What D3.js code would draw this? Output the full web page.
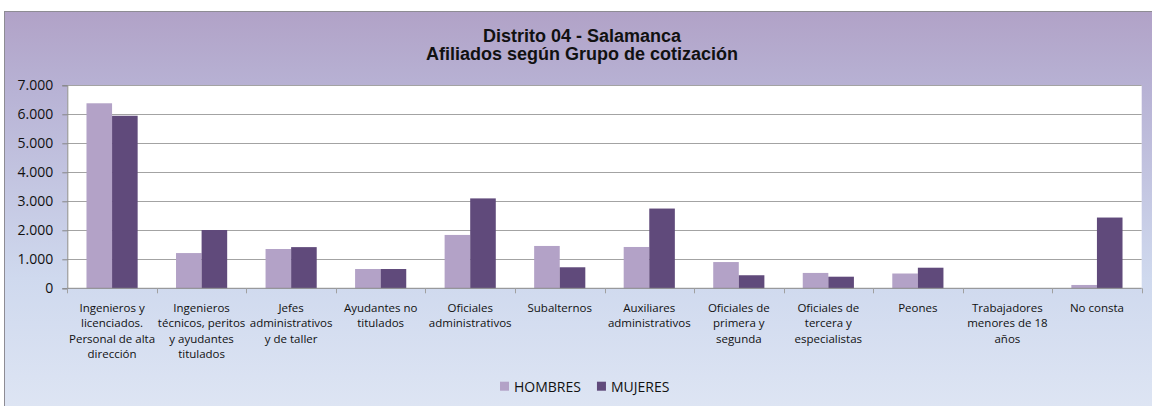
<!DOCTYPE html>
<html>
<head>
<meta charset="utf-8">
<script src="https://cdn.jsdelivr.net/npm/d3@7"></script>
<style>
  body { margin: 0; background: #fff; }
  svg text { font-family: "Open Sans", sans-serif; fill: #111; }
  .title { font-family: "Liberation Sans", Arial, sans-serif; font-weight: bold; font-size: 18px; }
</style>
</head>
<body>
<div id="vis"></div>
<script>
// data
var categories = [
  ['Ingenieros y', 'licenciados.', 'Personal de alta', 'dirección'],
  ['Ingenieros', 'técnicos, peritos', 'y ayudantes', 'titulados'],
  ['Jefes', 'administrativos', 'y de taller'],
  ['Ayudantes no', 'titulados'],
  ['Oficiales', 'administrativos'],
  ['Subalternos'],
  ['Auxiliares', 'administrativos'],
  ['Oficiales de', 'primera y', 'segunda'],
  ['Oficiales de', 'tercera y', 'especialistas'],
  ['Peones'],
  ['Trabajadores', 'menores de 18', 'años'],
  ['No consta']
];
var seriesNames = ['HOMBRES', 'MUJERES'];
var hombres = [6380, 1215, 1355, 665, 1840, 1460, 1425, 905, 530, 510, 0, 115];
var mujeres = [5950, 2010, 1420, 665, 3100, 725, 2750, 450, 400, 710, 0, 2440];
var yTicks = [0, 1000, 2000, 3000, 4000, 5000, 6000, 7000];
var titleLines = ['Distrito 04 - Salamanca', 'Afiliados según Grupo de cotización'];

var width = 1152;
var height = 406;
var colors = ['#b3a2c7', '#604a7b'];

var plot = { left: 67.3, right: 1141.7, top: 85.3, bottom: 288.3 };

var locale = d3.formatLocale({ decimal: ',', thousands: '.', grouping: [3], currency: ['', ''] });
var fmt = locale.format(',d');

var svg = d3.select('#vis').append('svg')
  .attr('width', width)
  .attr('height', height);

// background gradient
var grad = svg.append('defs').append('linearGradient')
  .attr('id', 'bg')
  .attr('x1', 0).attr('y1', 0).attr('x2', 0).attr('y2', 1);
grad.append('stop').attr('offset', '0%').attr('stop-color', '#b1a2c7');
grad.append('stop').attr('offset', '20%').attr('stop-color', '#b8b3d5');
grad.append('stop').attr('offset', '65%').attr('stop-color', '#cfd9ee');
grad.append('stop').attr('offset', '100%').attr('stop-color', '#dfe6f4');

svg.append('rect')
  .attr('x', 4.5).attr('y', 11.5)
  .attr('width', 1160).attr('height', 410)
  .attr('fill', 'url(#bg)')
  .attr('stroke', '#8e8c94')
  .attr('stroke-width', 1);

// title
svg.selectAll('.title')
  .data(titleLines)
  .enter().append('text')
  .attr('class', 'title')
  .attr('x', 582)
  .attr('y', function (d, i) { return 41.5 + i * 18; })
  .attr('text-anchor', 'middle')
  .text(function (d) { return d; });

// plot area
svg.append('rect')
  .attr('x', plot.left).attr('y', plot.top)
  .attr('width', plot.right - plot.left).attr('height', plot.bottom - plot.top)
  .attr('fill', '#fff');

var x = d3.scaleBand()
  .domain(d3.range(categories.length))
  .range([plot.left, plot.right])
  .padding(0);

var xs = d3.scaleBand()
  .domain(seriesNames)
  .range([0, x.bandwidth()])
  .paddingInner(0)
  .paddingOuter(0.75);

var y = d3.scaleLinear()
  .domain([0, 7000])
  .range([plot.bottom, plot.top]);

// gridlines
svg.append('g')
  .selectAll('line')
  .data(yTicks.slice(1))
  .enter().append('line')
  .attr('x1', plot.left).attr('x2', plot.right)
  .attr('y1', function (d) { return Math.round(y(d)) + 0.5; })
  .attr('y2', function (d) { return Math.round(y(d)) + 0.5; })
  .attr('stroke', '#a3a3a3')
  .attr('stroke-width', 1);

// bars
var series = [hombres, mujeres];
series.forEach(function (vals, si) {
  svg.append('g')
    .selectAll('rect')
    .data(vals)
    .enter().append('rect')
    .attr('x', function (d, i) { return x(i) + xs(seriesNames[si]); })
    .attr('y', function (d) { return y(d); })
    .attr('width', xs.bandwidth())
    .attr('height', function (d) { return y(0) - y(d); })
    .attr('fill', colors[si]);
});

// y axis
var yAxis = d3.axisLeft(y)
  .tickValues(yTicks)
  .tickSize(5)
  .tickPadding(9)
  .tickFormat(fmt);

var gy = svg.append('g')
  .attr('transform', 'translate(' + plot.left + ',0)')
  .call(yAxis);
gy.select('.domain').attr('stroke', '#868686');
gy.selectAll('.tick line').attr('stroke', '#868686');
gy.selectAll('.tick text')
  .attr('font-size', '14px')
  .attr('fill', '#111')
  .attr('font-family', '"Open Sans", sans-serif');

// x axis (boundary ticks)
var boundaries = d3.range(categories.length + 1).map(function (i) {
  return i < categories.length ? x(i) : plot.right;
});
var gx = svg.append('g');
gx.append('line')
  .attr('x1', plot.left).attr('x2', plot.right)
  .attr('y1', plot.bottom).attr('y2', plot.bottom)
  .attr('stroke', '#868686');
gx.selectAll('.xt')
  .data(boundaries)
  .enter().append('line')
  .attr('class', 'xt')
  .attr('x1', function (d) { return Math.round(d) + 0.5; })
  .attr('x2', function (d) { return Math.round(d) + 0.5; })
  .attr('y1', plot.bottom).attr('y2', plot.bottom + 5)
  .attr('stroke', '#a0a0a0');

// category labels
var labels = svg.append('g')
  .selectAll('text')
  .data(categories)
  .enter().append('text')
  .attr('x', function (d, i) { return x(i) + x.bandwidth() / 2; })
  .attr('y', 312)
  .attr('text-anchor', 'middle')
  .attr('font-size', '11.5px');

labels.selectAll('tspan')
  .data(function (d) { return d; })
  .enter().append('tspan')
  .attr('x', function () { return d3.select(this.parentNode).attr('x'); })
  .attr('dy', function (d, i) { return i === 0 ? 0 : 15.4; })
  .text(function (d) { return d; });

// legend
var legend = svg.append('g');
var items = legend.selectAll('g')
  .data(seriesNames)
  .enter().append('g');
items.append('rect')
  .attr('width', 9).attr('height', 9)
  .attr('y', 381.7)
  .attr('fill', function (d, i) { return colors[i]; });
items.append('text')
  .attr('y', 391.5)
  .attr('font-size', '14px')
  .text(function (d) { return d; });

var pos = 0;
var widths = [];
items.each(function () {
  var w = d3.select(this).select('text').node().getComputedTextLength();
  widths.push(w);
});
var total = d3.sum(widths) + widths.length * 14 + (widths.length - 1) * 16;
var start = 584.7 - total / 2;
items.each(function (d, i) {
  var g = d3.select(this);
  g.select('rect').attr('x', start + pos);
  g.select('text').attr('x', start + pos + 14);
  pos += 14 + widths[i] + 16;
});
</script>
</body>
</html>
